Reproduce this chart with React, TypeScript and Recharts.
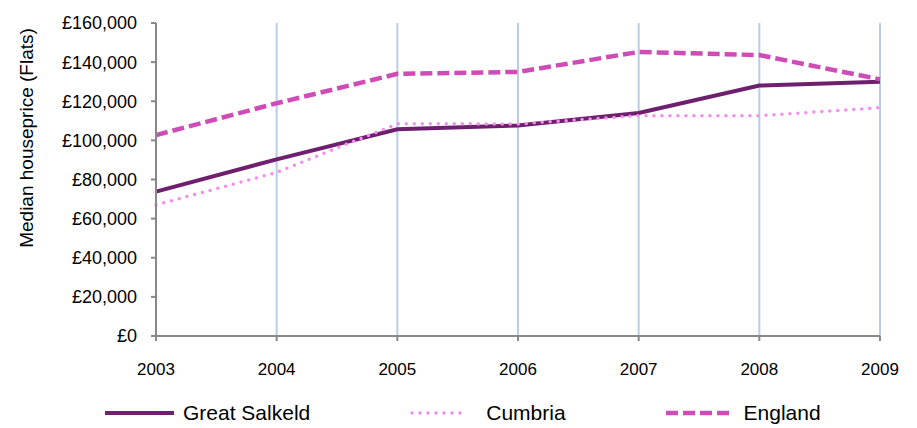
import { LineChart, Line, XAxis, YAxis, CartesianGrid } from 'recharts';

const years = ['2003', '2004', '2005', '2006', '2007', '2008', '2009'];
const greatSalkeld = [73800, 90300, 105700, 107600, 114000, 128000, 130000];
const cumbria = [67000, 83600, 108500, 108400, 112600, 112600, 116700];
const england = [102700, 119000, 134000, 135000, 145200, 143600, 131200];
const yTicks = [0, 20000, 40000, 60000, 80000, 100000, 120000, 140000, 160000];

const series = [
  { key: 'greatSalkeld', name: 'Great Salkeld', color: '#6E1F6E', width: 4, dash: undefined, cap: 'butt', legendW: 71, textGap: 7 },
  { key: 'cumbria', name: 'Cumbria', color: '#F48DF1', width: 3.5, dash: '0 8', cap: 'round', legendW: 60, textGap: 16 },
  { key: 'england', name: 'England', color: '#CF4CB7', width: 4.5, dash: '12 5', cap: 'butt', legendW: 68, textGap: 10 },
];

const data = years.map((year, i) => ({
  year,
  greatSalkeld: greatSalkeld[i],
  cumbria: cumbria[i],
  england: england[i],
}));

const font = '"Liberation Sans", Arial, sans-serif';
const axisColor = '#898989';

const fmt = (v: number) => '£' + v.toLocaleString('en-GB');

function YLabel() {
  return (
    <text
      x={26}
      y={138}
      transform="rotate(-90 26 138)"
      textAnchor="middle"
      dominantBaseline="central"
      fontSize={19}
      fontFamily={font}
      fill="#000"
    >
      Median houseprice (Flats)
    </text>
  );
}

export default function App() {
  return (
    <div style={{ position: 'absolute', left: 0, top: 0, width: 917, height: 428, background: '#fff' }}>
      <LineChart width={917} height={428} data={data} margin={{ top: 23, right: 37, left: 0, bottom: 52 }}>
        <CartesianGrid horizontal={false} stroke="#B9CDE5" strokeWidth={2} />
        <XAxis
          dataKey="year"
          stroke={axisColor}
          strokeWidth={2}
          tickSize={5}
          tickMargin={22}
          height={40}
          tick={{ fill: '#000', fontSize: 17, fontFamily: font }}
        />
        <YAxis
          width={156}
          domain={[0, 160000]}
          ticks={yTicks}
          tickFormatter={fmt}
          stroke={axisColor}
          strokeWidth={2}
          tickSize={5}
          tickMargin={14}
          tick={{ fill: '#000', fontSize: 18, fontFamily: font }}
          label={{ content: () => <YLabel /> }}
        />
        {series.map((s) => (
          <Line
            key={s.key}
            type="linear"
            dataKey={s.key}
            name={s.name}
            stroke={s.color}
            strokeWidth={s.width}
            strokeDasharray={s.dash}
            strokeLinecap={s.cap as any}
            dot={false}
            activeDot={false}
            isAnimationActive={false}
          />
        ))}
      </LineChart>
      <div
        style={{
          position: 'absolute',
          left: 105,
          top: 401,
          display: 'flex',
          alignItems: 'center',
          gap: 100,
          fontFamily: font,
          fontSize: 21,
          color: '#000',
        }}
      >
        {series.map((s) => (
          <div key={s.key} style={{ display: 'flex', alignItems: 'center', gap: s.textGap }}>
            <svg width={s.legendW} height={24}>
              <line
                x1={s.cap === 'round' ? 2 : 0}
                y1={12}
                x2={s.legendW - 2}
                y2={12}
                stroke={s.color}
                strokeWidth={s.width}
                strokeDasharray={s.dash}
                strokeLinecap={s.cap as any}
              />
            </svg>
            <span style={{ lineHeight: '24px' }}>{s.name}</span>
          </div>
        ))}
      </div>
    </div>
  );
}
